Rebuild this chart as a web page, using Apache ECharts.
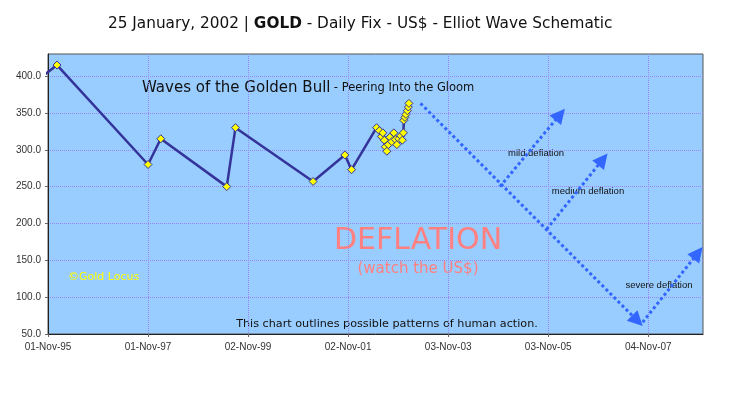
<!DOCTYPE html>
<html>
<head>
<meta charset="utf-8">
<script src="https://cdn.jsdelivr.net/npm/echarts@6/dist/echarts.min.js"></script>
<style>
  html, body { margin: 0; padding: 0; background: #fff; }
  #chart { width: 741px; height: 399px; }
</style>
</head>
<body>
<div id="chart"></div>
<script>
// x values are days counted from 01-Nov-1995
const startDate = Date.UTC(1995, 10, 1);
const monthNames = ['Jan','Feb','Mar','Apr','May','Jun','Jul','Aug','Sep','Oct','Nov','Dec'];

// gold daily fix (first point sits left of the axis and is clipped)
const goldDays  = [-150, 66, 731, 824, 1306, 1370, 1937, 2169, 2218, 2401, 2421, 2436, 2447, 2458, 2465,
                   2476, 2487, 2498, 2512, 2527, 2538, 2549, 2564, 2578, 2589, 2597, 2600, 2608, 2615,
                   2626, 2633, 2637];
const goldPrice = [384, 415, 280, 315, 250, 330, 257, 293, 273, 330, 326, 318, 323, 313, 304,
                   298, 307, 317, 311, 323, 314, 307, 315, 319, 313, 323, 340, 344, 348,
                   353, 358, 363];

// schematic wave arrows [day, price]
const waveFrom = [[2722, 363], [3302, 250], [3643, 192], [4345, 66]];
const waveTo   = [[4307, 68],  [3742, 348], [4054, 287], [4749, 160]];

// axis settings
const xMin = 0, xMax = 4786, xStep = 731;
const yMin = 50, yMax = 430, yStep = 50;

function dayLabel(d) {
  const dt = new Date(startDate + d * 86400000);
  const dd = String(dt.getUTCDate()).padStart(2, '0');
  const yy = String(dt.getUTCFullYear() % 100).padStart(2, '0');
  return dd + '-' + monthNames[dt.getUTCMonth()] + '-' + yy;
}

const chart = echarts.init(document.getElementById('chart'));

const gridLine = {
  show: true, showMinLine: false, showMaxLine: false,
  lineStyle: { color: '#9a86f5', width: 1, type: 'dotted' }
};

const option = {
  animation: false,
  backgroundColor: '#ffffff',
  title: {
    text: '25 January, 2002 | {b|GOLD} - Daily Fix - US$ - Elliot Wave Schematic',
    left: 108,
    top: 17,
    padding: 0,
    textStyle: {
      fontFamily: 'DejaVu Sans',
      fontSize: 15.3,
      fontWeight: 'normal',
      color: '#111',
      rich: { b: { fontFamily: 'DejaVu Sans', fontSize: 15.3, fontWeight: 'bold', color: '#111' } }
    }
  },
  grid: {
    left: 48, top: 54, right: 38, bottom: 65,
    show: true,
    backgroundColor: '#99ccff',
    borderColor: '#555',
    borderWidth: 1,
    outerBoundsMode: 'none'
  },
  xAxis: {
    type: 'value',
    min: xMin, max: xMax, interval: xStep,
    axisLine: { show: true, lineStyle: { color: '#222', width: 1 } },
    axisTick: { show: true, length: 3, lineStyle: { color: '#666' } },
    axisLabel: {
      showMaxLabel: false,
      margin: 8,
      fontFamily: 'Liberation Sans', fontSize: 10, color: '#333',
      formatter: v => dayLabel(v)
    },
    splitLine: gridLine
  },
  yAxis: {
    type: 'value',
    min: yMin, max: yMax, interval: yStep,
    axisLine: { show: true, lineStyle: { color: '#222', width: 1 } },
    axisTick: { show: true, length: 3, lineStyle: { color: '#666' } },
    axisLabel: {
      showMaxLabel: false,
      margin: 7,
      fontFamily: 'Liberation Sans', fontSize: 10, color: '#333',
      formatter: v => v.toFixed(1)
    },
    splitLine: gridLine
  },
  series: [
    {
      name: 'Gold',
      type: 'line',
      data: goldDays.map((d, i) => [d, goldPrice[i]]),
      clip: true,
      symbol: 'diamond',
      symbolSize: 8,
      showSymbol: true,
      itemStyle: { color: '#ffff00', borderColor: '#333399', borderWidth: 1 },
      lineStyle: { color: '#333399', width: 2.5 },
      z: 3
    },
    {
      name: 'Waves',
      type: 'lines',
      coordinateSystem: 'cartesian2d',
      symbol: ['none', 'triangle'],
      symbolSize: [13, 15],
      lineStyle: { color: '#3366ff', width: 3, type: [3, 2.7], opacity: 1, curveness: 0 },
      itemStyle: { color: '#3366ff' },
      data: waveFrom.map((p, i) => ({ coords: [p, waveTo[i]] })),
      z: 4
    }
  ],
  graphic: [
    {
      type: 'text', x: 142, y: 88,
      style: {
        text: '{a|Waves of the Golden Bull} {b|- Peering Into the Gloom}',
        verticalAlign: 'middle',
        rich: {
          a: { fontFamily: 'DejaVu Sans', fontSize: 15, fill: '#111' },
          b: { fontFamily: 'DejaVu Sans', fontSize: 11.5, fill: '#111' }
        }
      }
    },
    {
      type: 'text', x: 418, y: 241,
      style: { text: 'DEFLATION', font: '30px "DejaVu Sans"', fill: '#ff8080', align: 'center', verticalAlign: 'middle' }
    },
    {
      type: 'text', x: 418, y: 269,
      style: { text: '(watch the US$)', font: '15px "DejaVu Sans"', fill: '#ff8080', align: 'center', verticalAlign: 'middle' }
    },
    {
      type: 'text', x: 68, y: 277,
      style: { text: '©Gold Locus', font: '11px "DejaVu Sans"', fill: '#ffff00', verticalAlign: 'middle' }
    },
    {
      type: 'text', x: 387, y: 324,
      style: { text: 'This chart outlines possible patterns of human action.', font: '11.2px "DejaVu Sans"', fill: '#111', align: 'center', verticalAlign: 'middle' }
    },
    {
      type: 'text', x: 536, y: 153,
      style: { text: 'mild deflation', font: '9.5px "Liberation Sans"', fill: '#111', align: 'center', verticalAlign: 'middle' }
    },
    {
      type: 'text', x: 588, y: 191,
      style: { text: 'medium deflation', font: '9.5px "Liberation Sans"', fill: '#111', align: 'center', verticalAlign: 'middle' }
    },
    {
      type: 'text', x: 659, y: 285,
      style: { text: 'severe deflation', font: '9.5px "Liberation Sans"', fill: '#111', align: 'center', verticalAlign: 'middle' }
    }
  ]
};

chart.setOption(option);
</script>
</body>
</html>
